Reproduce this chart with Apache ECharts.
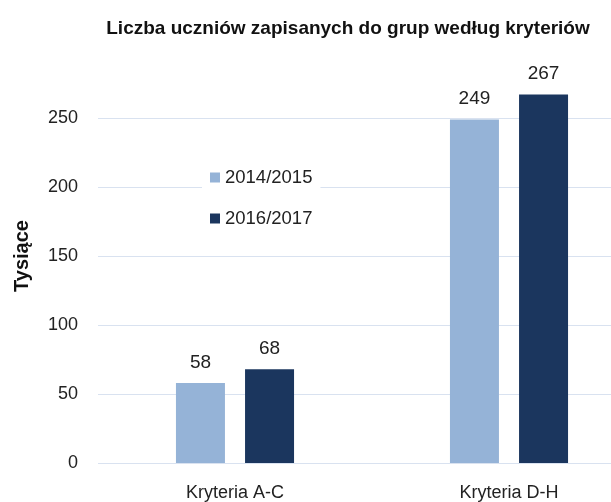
<!DOCTYPE html>
<html>
<head>
<meta charset="utf-8">
<script src="https://cdn.jsdelivr.net/npm/echarts@6/dist/echarts.min.js"></script>
<style>
html, body { margin: 0; padding: 0; background: #fff; }
#main { width: 611px; height: 502px; }
</style>
</head>
<body>
<div id="main"></div>
<script>
// dane wykresu
const categories = ["Kryteria A-C", "Kryteria D-H"];
const seriesNames = ["2014/2015", "2016/2017"];
const values2014 = [58, 249];
const values2016 = [68, 267];
const colors = ["#95B3D7", "#1B365E"];

const font = "Liberation Sans, Arial, sans-serif";

var chart = echarts.init(document.getElementById("main"));
chart.setOption({
	animation: false,
	title: {
		text: "Liczba uczniów zapisanych do grup według kryteriów",
		left: 343,
		textAlign: "center",
		top: 14,
		textStyle: { fontFamily: font, fontSize: 19, fontWeight: "bold", color: "#111" }
	},
	legend: {
		orient: "vertical",
		left: 202,
		top: 164,
		itemWidth: 10,
		itemHeight: 10,
		itemGap: 22,
		icon: "rect",
		backgroundColor: "#fff",
		padding: [4, 8],
		textStyle: { fontFamily: font, fontSize: 18.5, color: "#222" },
		data: seriesNames
	},
	grid: { left: 98, top: 49, width: 548, height: 414, outerBoundsMode: "none" },
	xAxis: {
		type: "category",
		data: categories,
		axisLine: { show: false },
		axisTick: { show: false },
		axisLabel: { fontFamily: font, fontSize: 18, color: "#222", margin: 21 }
	},
	yAxis: {
		type: "value",
		min: 0,
		max: 300,
		interval: 50,
		name: "Tysiące",
		nameLocation: "middle",
		nameGap: 66,
		nameTextStyle: { fontFamily: font, fontSize: 20, fontWeight: "bold", color: "#111" },
		axisLabel: { fontFamily: font, fontSize: 18, color: "#222", margin: 20, showMaxLabel: false },
		axisLine: { show: false },
		axisTick: { show: false },
		splitLine: { showMaxLine: false, lineStyle: { color: "#D9E2F0", width: 1 } }
	},
	series: [
		{
			name: seriesNames[0],
			type: "bar",
			data: values2014,
			barWidth: 49,
			barGap: "41%",
			itemStyle: { color: colors[0] },
			label: { show: true, position: "top", distance: 11, fontFamily: font, fontSize: 19, color: "#222" }
		},
		{
			name: seriesNames[1],
			type: "bar",
			data: values2016,
			barWidth: 49,
			barGap: "41%",
			itemStyle: { color: colors[1] },
			label: { show: true, position: "top", distance: 11, fontFamily: font, fontSize: 19, color: "#222" }
		}
	]
});
</script>
</body>
</html>
